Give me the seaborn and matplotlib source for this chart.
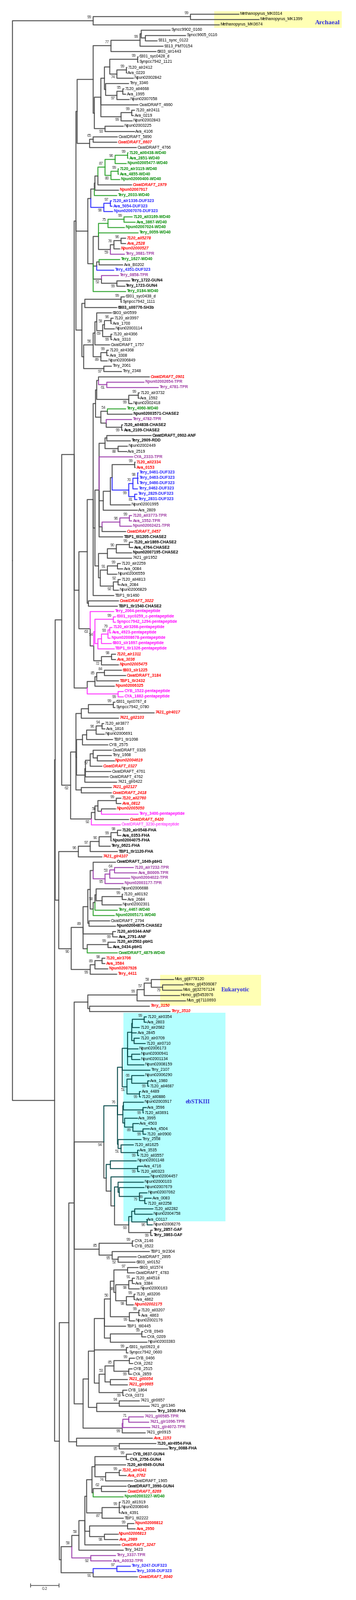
import re
import pandas as pd
import seaborn as sns
import matplotlib.pyplot as plt
from matplotlib.patches import Rectangle

# Newick pieces. Number after ':' = distance of the node from the root (subst./site).
# Label before ':' = bootstrap; a trailing 'b' means the value is printed under the branch.
ARCHAEA = "((Methanopyrus_MK0314:1.608,Methanopyrus_MK1399:1.75)99:1.267,Methanopyrus_MK0674:1.471)99:0.583"

SYN_A1 = ("(((Syncc9902_0160:1.125,(Syncc9605_0116:1.233,9311_sync_0122:1.033):0.95):0.921,"
          "9313_PMT0154:1.075)99:0.913,6803_slr1443:1.025)77:0.708")
SYN_A2 = ("((((6301_syc0428_d:0.9,Synpcc7942_1121:0.9)99:0.896,((7120_alr2412:0.821,Ava_0220:0.821)99:0.817,"
          "Npun02002842:0.867)74b:0.75):0.7,(Tery_3346:0.833,((7120_all4668:0.8,Ava_1995:0.813)95:0.792,"
          "Npun02007058:0.838)97b:0.75):0.671):0.663,CwatDRAFT_4660:0.9,((7120_alr2411:0.875,Ava_0219:0.867)99:0.854,"
          "Npun02002843:0.858)99b:0.779):0.638")
SYN_A3 = "((CwatDRAFT_5890:0.754,CwatDRAFT_6607:0.75)65:0.583,CwatDRAFT_4766:0.888):0.558"
SYN = ("((" + SYN_A1 + ",(" + SYN_A2 + ",(Npun02003225:0.796,Ava_4106:0.875)93b:0.667):0.592):0.583,"
       + SYN_A3 + "):0.471")

WD_A = ("(((7120_all0438-WD40:0.829,Ava_2851-WD40:0.829)99:0.825,Npun02005477-WD40:0.817)96:0.738,"
        "((7120_alr3119-WD40:0.763,Ava_4855-WD40:0.763)99:0.758,Npun02000400-WD40:0.771)80b:0.708)87:0.667")
WD_B = "(((" + WD_A + ",CwatDRAFT_1979:0.854):0.617,Npun02007917:0.763):0.596,Tery_2033-WD40:0.75):0.592"
DUF_A = "((7120_alr1336-DUF323:0.713,Ava_5054-DUF323:0.717)97:0.704,Npun02007070-DUF323:0.721)98b:0.658"
N1 = ("((((7120_all3169-WD40:0.858,Ava_3867-WD40:0.879)99:0.8,Npun02007024-WD40:0.804)75:0.688,"
      "Tery_0059-WD40:0.9,(((7120_all5278:0.813,Ava_2528:0.813)96:0.779,Npun02000527:0.771)78:0.729,"
      "Tery_3681-TPR:0.804)59b:0.704):0.621,((Tery_1627-WD40:0.771,Ava_B0202:0.792):0.625,"
      "Tery_4351-DUF323:0.729):0.608,(Tery_0858-TPR:0.763,(Tery_1722-GUN4:0.842,Tery_1723-GUN4:0.808)99b:0.75)52b:0.642,"
      "Tery_0184-WD40:0.813):0.583")
CLADE_B = "((" + WD_B + "," + DUF_A + "):0.567," + N1 + "):0.546"

CLADE_C = ("(((6301_syc0438_d:0.804,Synpcc7942_1111:0.783)99:0.779,6803_sll0776-SH3b:0.75):0.525,"
           "((((6803_slr0599:0.713,(((7120_alr3997:0.725,Ava_1700:0.713)96:0.708,Npun02003114:0.733)58:0.663,"
           "(7120_alr4366:0.717,Ava_3310:0.717)99b:0.708)69b:0.65):0.608,CwatDRAFT_1757:0.7):0.596,"
           "((7120_alr4368:0.692,Ava_3308:0.692)99:0.679,Npun02006849:0.683)89b:0.638)56:0.583,"
           "(Tery_2061:0.713,Tery_2348:0.783)97b:0.658):0.517):0.504")
CLADE_X = "(" + SYN + "," + CLADE_B + "," + CLADE_C + "):0.463"

CLADE_D = ("(((CwatDRAFT_0901:0.979,(Npun02002654-TPR:0.942,Tery_4781-TPR:1.042)61b:0.679):0.621,"
           "((7120_alr3732:0.908,Ava_1592:0.908)99:0.9,Npun02002418:0.858)99b:0.833):0.608,"
           "((Tery_4060-WD40:0.813,Npun02003571-CHASE2:0.858)54:0.683,(Tery_4782-TPR:0.854,"
           "(7120_all4838-CHASE2:0.792,Ava_2109-CHASE2:0.792)99b:0.783):0.675):0.638):0.6")

DUF_B = ("((Tery_0461-DUF323:0.9,Tery_0463-DUF323:0.9,Tery_0460-DUF323:0.9)98:0.896,Tery_0462-DUF323:0.896)70:0.863,"
         "(Tery_2829-DUF323:0.892,Tery_2831-DUF323:0.892)81b:0.875")
E1 = ("(((CwatDRAFT_0902-ANF:0.992,Tery_2609-RDD:0.846):0.679,(Npun02002449:0.825,Ava_2519:0.821)88b:0.758):0.667,"
      "CYA_2333-TPR:0.863,((((7120_all2334:0.879,Ava_0153:0.879)99:0.875,(" + DUF_B + ")99b:0.833):0.717,"
      "Npun02001995:0.846):0.704,Ava_2809:0.896):0.654,(((7120_all3773-TPR:0.854,Ava_1552-TPR:0.854)99:0.838,"
      "Npun02002421-TPR:0.854)96:0.771,CwatDRAFT_0457:0.813):0.646,TBP1_tll1205-CHASE2:0.792):0.625")
E2 = ("((((7120_alr1869-CHASE2:0.863,Ava_4764-CHASE2:0.863)99:0.838,Npun02007195-CHASE2:0.854)90:0.746,"
      "7421_glr1952:0.854):0.683,(((7120_alr2259:0.775,Ava_0084:0.792)99:0.754,Npun02006559:0.75)91:0.683,"
      "((7120_all4813:0.775,Ava_2084:0.775)92:0.758,Npun02006829:0.763)92b:0.725):0.633):0.621")
CLADE_E = ("((" + CLADE_D + ",(" + E1 + "," + E2 + "):0.596,TBP1_tlr1460:0.729):0.583,"
           "(CwatDRAFT_3022:0.763,TBP1_tlr1540-CHASE2:0.754):0.55):0.542")
PENTA = ("(Tery_2064-pentapeptide:0.729,(((6301_syc0259_c-pentapeptide:0.742,Synpcc7942_1294-pentapeptide:0.742)99:0.725,"
         "((((7120_alr3268-pentapeptide:0.717,Ava_4923-pentapeptide:0.708)79:0.7,Npun02008678-pentapeptide:0.704)93:0.688,"
         "6803_slr1697-pentapeptide:0.713):0.642,TBP1_tlr1326-pentapeptide:0.733):0.617)54b:0.596,"
         "((7120_alr1311:0.742,Ava_3036:0.742)98:0.713,Npun02005475:0.763)72b:0.642):0.588)63b:0.563")
CLADE_L = "(" + CLADE_E + "," + PENTA + "):0.483"
CLADE_G = ("((((6803_slr1225:0.783,CwatDRAFT_3184:0.813)84:0.663,TBP1_tlr2432:0.763)85:0.608,Npun02006325:0.733):0.596,"
           "(CYB_1522-pentapeptide:0.796,CYA_1882-pentapeptide:0.796)99b:0.758):0.542")
CLADE_H = "(" + CLADE_X + "," + CLADE_L + "," + CLADE_G + "):0.45"

I1 = "(((6301_syc0767_d:0.738,Synpcc7942_0780:0.738)99:0.725,7421_glr4017:1.013):0.55,7421_gll2103:0.763):0.5"
I2 = ("(((((7120_alr3877:0.658,Ava_1816:0.667)94:0.646,Npun02006691:0.663)96:0.604,TBP1_tlr1098:0.721):0.538,"
      "CYB_2575:0.688):0.508,((((CwatDRAFT_0326:0.713,(Tery_1668:0.713,Npun02004619:0.733):0.613):0.583,"
      "CwatDRAFT_0327:0.646)57b:0.563,CwatDRAFT_4761:0.708,CwatDRAFT_4762:0.692):0.529,7421_glr0422:0.75):0.525):0.467")
I3 = ("((((7120_all2760:0.779,Ava_0812:0.779)99:0.746,(Npun02005050:0.742,Tery_3400-pentapeptide:0.9):0.642)50b:0.617,"
      "CwatDRAFT_6420:0.833):0.596,CwatDRAFT_3230-pentapeptide:0.775)92b:0.571")
CLADE_I = "((" + I1 + "," + I2 + ",(7421_gll2127:0.713,CwatDRAFT_2418:0.713):0.5):0.463," + I3 + ")62b:0.425"

FHA = ("(((((7120_alr0548-FHA:0.779,Ava_0353-FHA:0.779)98:0.754,Npun02004075-FHA:0.713)99:0.708,"
       "Tery_0621-FHA:0.704)90:0.625,TBP1_tlr1120-FHA:0.754)97:0.563,7421_glr4107:0.646)96:0.479")
TPR_B = ("(CwatDRAFT_1649-pbH1:0.742,(((7120_alr7232-TPR:0.867,Ava_B0009-TPR:0.892)64:0.733,"
         "Npun02004022-TPR:0.842)53:0.7,Npun02003177-TPR:0.796)95b:0.667):0.583")
MIX = ("(((Npun02006688:0.775,((7120_all0192:0.792,Ava_2684:0.817)99:0.788,Npun02002301:0.783):0.646):0.604,"
       "Tery_4467-WD40:0.754)58:0.596,Npun02005171-WD40:0.733):0.583")
K1 = "((" + TPR_B + "," + MIX + "):0.563,(CwatDRAFT_2794:0.7,Npun02004875-CHASE2:0.742):0.554):0.546"
K2 = ("(" + K1 + ",(7120_alr0344-ANF:0.742,Ava_2791-ANF:0.754)99b:0.721,((7120_alr2502-pbH1:0.742,"
      "Ava_0434-pbH1:0.713)99:0.688,CwatDRAFT_4879-WD40:0.754):0.542)89:0.513")
RED3 = "(((7120_alr3706:0.667,Ava_3584:0.667)98:0.646,Npun02007926:0.688)89:0.596,Tery_4411:0.75)99b:0.563"
CLADE_D2 = "(" + FHA + ",(" + K2 + "," + RED3 + ")90b:0.429):0.342"

EUK = ("((((Mus_gi|8778120:1.15,(Homo_gi|4506087:1.217,Mus_gi|32767124:1.208)79b:1.071)58:0.992,"
       "Homo_gi|5453976:1.192)57:0.942,Mus_gi|7110693:1.233)99:0.892,(Tery_3150:0.979,Tery_3510:1.125):0.558):0.546")
EB1 = ("((((7120_alr0354:0.958,Ava_2803:0.958)99:0.942,7120_alr2682:0.908):0.858,Ava_2845:0.888,"
       "(7120_alr0709:0.908,7120_alr0710:0.95):0.871):0.854,Npun02006173:0.9,(Npun02000941:0.913,"
       "Npun02001134:0.913):0.854,Npun02008159:0.942):0.825")
EB2 = ("(" + EB1 + ",Tery_2107:0.983,((Npun02006290:0.942,(Ava_1980:0.979,7120_all4687:0.975)99b:0.967)66:0.854,"
       "(Ava_4489:0.917,7120_all0886:0.917)99b:0.908)51b:0.821):0.788")
EB3 = ("((Npun02003917:0.938,(Ava_3596:0.958,7120_all3691:0.938)99b:0.933):0.796,(Ava_3995:0.896,"
       "(Ava_4503:0.904,(Ava_4504:0.979,7120_alr0900:0.954)99b:0.933)89b:0.863):0.804):0.792")
EB4 = "(Tery_2558:0.921,(7120_all1625:0.867,(Ava_3535:0.904,7120_all3557:0.904)99b:0.896)51b:0.779):0.758"
EB = "(" + EB2 + "," + EB3 + "," + EB4 + ")76:0.754"
EB_Q = ("((Npun02001148:0.888,(Ava_4716:0.933,7120_all0323:0.908)99b:0.896):0.704,(Npun02004457:0.979,"
        "((Npun02000103:0.938,(Npun02007679:0.942,(Npun02007062:0.963,(Ava_0083:0.992,7120_alr2258:0.958)99:0.946)79b:0.908):0.767):0.758,"
        "(((7120_all2282:1.004,Npun02004758:1.0):0.875,(Ava_C0117:0.958,Npun02008276:1.0)96b:0.963):0.854,"
        "(Tery_2857-GAF:1.0,Tery_3863-GAF:1.0)99b:0.988)93b:0.833):0.733):0.708):0.675")
EB_ALL = "(" + EB + "," + EB_Q + ")94b:0.658"
CY = ("((CYA_2146:0.867,CYB_0522:0.867)99:0.858,(TBP1_tlr2304:0.979,(CwatDRAFT_2895:0.888,"
      "6803_slr0152:0.879)52b:0.758)95b:0.717)85:0.625")
S1 = ("((((6803_sll1574:0.9,CwatDRAFT_4783:0.875)97:0.825,(((7120_all4518:0.875,Ava_3384:0.875)91:0.858,"
      "Npun02000163:0.908)98b:0.833,((7120_all3206:0.879,Ava_4862:0.879)99:0.871,Npun02002175:0.867)98b:0.817)98:0.742):0.729,"
      "((7120_all3207:0.913,Ava_4863:0.913)99:0.904,Npun02002176:0.875)99b:0.838)50:0.704,TBP1_tll0445:0.813,"
      "((CYB_0949:0.933,CYA_0209:0.954)99:0.925,Npun02003383:0.963):0.704):0.663")
T1 = ("(" + S1 + ",(6301_syc0923_d:0.829,Synpcc7942_0600:0.829)99:0.817,((((CYB_0466:0.875,CYA_2262:0.863)99:0.838,"
      "(CYB_2515:0.858,CYA_2859:0.854)99b:0.833)85:0.729,(7421_gll0054:0.825,7421_glr0665:0.825):0.704)53:0.667,"
      "(CYB_1864:0.821,CYA_0373:0.8)99b:0.792):0.625):0.592")
W = ("((" + T1 + ",((7421_glr0657:0.908,7421_glr1346:0.979)94:0.767,Tery_1030-FHA:1.025):0.608):0.55,"
     "(((7421_gll0585-TPR:0.938,7421_glr1096-TPR:0.975)71:0.833,7421_glr4072-TPR:0.983):0.792,"
     "7421_glr0915:0.95)99b:0.788):0.513")
CLADE_EE = "(" + EUK + "," + EB_ALL + "," + CY + "," + W + "):0.45"
CLADE_FF = "(" + CLADE_EE + ",(Ava_1153:1.0,(7120_alr4954-FHA:1.025,Tery_0088-FHA:1.108)95b:0.767):0.467):0.413"

U1 = ("(((((CYB_0637-GUN4:0.854,CYA_2756-GUN4:0.833)99:0.817,7120_alr4949-GUN4:0.813,((7120_alr4141:0.779,"
      "Ava_0762:0.817)99:0.767,CwatDRAFT_1965:0.863)74b:0.671):0.596,((CwatDRAFT_3990-GUN4:0.817,"
      "CwatDRAFT_6269:0.817)62:0.642,Npun02003227-WD40:0.796):0.583):0.575,((7120_all1919:0.775,"
      "Npun02008046:0.775,Ava_4391:0.775)99:0.767,TBP1_tll2222:0.796)87b:0.646):0.538,((Npun02006812:0.871,"
      "Ava_2950:0.879)99:0.825,(Npun02006813:0.758,Ava_2989:0.758)98b:0.663):0.558,CwatDRAFT_3247:0.775):0.525")
U2 = "((" + U1 + ",Tery_3423:0.796)58:0.483,(Tery_3337-TPR:0.742,Ava_A0032-TPR:0.713)92b:0.567)58:0.433"
CLADE_U = "(" + U2 + ",((Tery_0247-DUF323:0.846,Tery_1036-DUF323:0.883)97:0.75,CwatDRAFT_6040:0.896)91b:0.583):0.358"

TREE = ("(" + ARCHAEA + ",(((" + CLADE_H + "," + CLADE_I + "):0.363," + CLADE_D2 + "):0.317,("
        + CLADE_FF + "," + CLADE_U + "):0.346):0.313):0.015")

RED_ITALIC = ["CwatDRAFT_6607", "CwatDRAFT_1979", "7120_all5278", "Ava_2528", "Npun02000527", "CwatDRAFT_0901",
              "CwatDRAFT_0457", "CwatDRAFT_3022", "7120_alr1311", "Ava_3036", "Npun02005475", "7421_glr4017",
              "7421_gll2103", "Npun02004619", "CwatDRAFT_0327", "7421_gll2127", "CwatDRAFT_2418", "7120_all2760",
              "Ava_0812", "Npun02005050", "CwatDRAFT_6420", "7421_glr4107", "Tery_3150", "Tery_3510",
              "Npun02002175", "7421_gll0054", "7421_glr0665", "Ava_1153", "7120_alr4141", "Ava_0762",
              "CwatDRAFT_6269", "Npun02006813", "Ava_2989", "CwatDRAFT_3247", "CwatDRAFT_6040"]
RED_BOLD = ["Npun02007917", "7120_all2334", "Ava_0153", "6803_slr1225", "CwatDRAFT_3184", "TBP1_tlr2432",
            "Npun02006325", "7120_alr3706", "Ava_3584", "Npun02007926", "Tery_4411", "Npun02006812", "Ava_2950"]
PLAIN_DOMAIN = ["CwatDRAFT_3230-pentapeptide"]
DOMAIN_SUFFIX = ["-WD40", "-DUF323", "-TPR", "-pentapeptide"]
DOMAIN_CLASS = ["wd40", "duf", "tpr", "penta"]
EB_FIRST, EB_LAST, EB_BOX_LAST = "7120_alr0354", "Npun02008276", "Ava_C0117"
EUK_FIRST, EUK_LAST = "Mus_gi|8778120", "Mus_gi|7110693"
ARC_FIRST, ARC_LAST = "Methanopyrus_MK0314", "Methanopyrus_MK0674"
SCALE_LEN = 0.2

TEXT_COLOR = {"wd40": "#008a00", "duf": "#2020ff", "tpr": "#9a35a0", "penta": "#ff00ff", "red": "#ff0000"}
BRANCH_COLOR = {"gray": "#505050", "wd40": "#33a533", "duf": "#3535ff", "tpr": "#a045b0",
                "penta": "#ff3cff", "eb": "#0f5050"}


def parse(s):
    pos = 0
    name_re = re.compile(r"[^:,()]*")
    num_re = re.compile(r"[0-9.]+")

    def node():
        nonlocal pos
        n = {"children": [], "depth": 0.0}
        if s[pos] == "(":
            pos += 1
            n["children"].append(node())
            while s[pos] == ",":
                pos += 1
                n["children"].append(node())
            pos += 1
        m = name_re.match(s, pos)
        n["name"] = m.group(0)
        pos = m.end()
        if pos < len(s) and s[pos] == ":":
            m = num_re.match(s, pos + 1)
            n["depth"] = float(m.group(0))
            pos = m.end()
        return n
    return node()


root = parse(TREE)
leaves = []


def place(n):
    if not n["children"]:
        n["y"] = len(leaves)
        leaves.append(n)
    else:
        for c in n["children"]:
            place(c)
        n["y"] = (n["children"][0]["y"] + n["children"][-1]["y"]) / 2


place(root)
order = [l["name"] for l in leaves]
eb_range = range(order.index(EB_FIRST), order.index(EB_LAST) + 1)


def leaf_class(i, name):
    if i in eb_range:
        return "eb"
    for suf, cls in zip(DOMAIN_SUFFIX, DOMAIN_CLASS):
        if name.endswith(suf):
            return cls
    return "gray"


def set_class(n):
    if not n["children"]:
        n["cls"] = leaf_class(n["y"], n["name"])
    else:
        kids = [set_class(c) for c in n["children"]]
        n["cls"] = kids[0] if len(set(kids)) == 1 else "gray"
    return n["cls"]


set_class(root)

rows = []
supports = []


def collect(n):
    for k, c in enumerate(n["children"]):
        for x, y in [(n["depth"], n["y"]), (n["depth"], c["y"]), (c["depth"], c["y"])]:
            rows.append({"seg": f"{id(n)}_{k}", "x": x, "y": y, "cls": c["cls"]})
        collect(c)
    if n["children"] and n["name"]:
        supports.append((n["depth"], n["y"], n["name"]))


collect(root)
segs = pd.DataFrame(rows)

sns.set_theme(style="white")
plt.rcParams["font.family"] = ["Liberation Sans", "DejaVu Sans"]

fig = plt.figure(figsize=(6, 27), dpi=100)
ax = fig.add_axes([0, 0, 1, 1])
ax.set_xlim(-17 / 240, 583 / 240)
ax.set_ylim((2700 - 23.7) / 9, -23.7 / 9)
ax.axis("off")


# shaded groups
def box(first, last, x0, x1, color, top=0.55, bottom=0.55):
    i0, i1 = order.index(first), order.index(last)
    ax.add_patch(Rectangle((x0, i0 - top), x1 - x0, i1 - i0 + top + bottom,
                           facecolor=color, edgecolor="none", zorder=0))


box(ARC_FIRST, ARC_LAST, 1.433, 2.33, "#ffffb4")
box(EUK_FIRST, EUK_LAST, 1.054, 1.763, "#ffffb4", 0.9, 0.95)
box(EB_FIRST, EB_BOX_LAST, 0.796, 1.513, "#b4ffff", 0.75, 0.4)

sns.lineplot(data=segs, x="x", y="y", hue="cls", units="seg", estimator=None, sort=False,
             palette=BRANCH_COLOR, legend=False, linewidth=1.15, ax=ax, zorder=2)
ax.set_xlabel("")
ax.set_ylabel("")

gap = 0.006
for i, l in enumerate(leaves):
    name = l["name"]
    kw = dict(color="black", weight="normal", style="normal")
    if name in RED_ITALIC:
        kw.update(color=TEXT_COLOR["red"], weight="bold", style="italic")
    elif name in RED_BOLD:
        kw.update(color=TEXT_COLOR["red"], weight="bold")
    elif name in PLAIN_DOMAIN:
        kw.update(color=TEXT_COLOR["penta"])
    elif "-" in name:
        cls = leaf_class(-1, name)
        kw.update(color=TEXT_COLOR.get(cls, "black"), weight="bold")
    ax.text(l["depth"] + gap, i, name, fontsize=4.9, va="center", ha="left", zorder=3, **kw)

for x, y, lab in supports:
    below = lab.endswith("b")
    ax.text(x - 0.012, y + (0.22 if below else -0.22), lab.rstrip("b"), fontsize=4.9, color="#404040",
            ha="right", va="top" if below else "bottom", zorder=3)

serif = dict(family=["Liberation Serif", "DejaVu Serif"], weight="bold", color="#3030dd")
ax.text(2.23, order.index(ARC_LAST) - 0.35, "Archaeal", fontsize=7.8,
        ha="center", va="center", **serif)
ax.text(1.583, (order.index(EUK_FIRST) + order.index(EUK_LAST)) / 2, "Eukaryotic", fontsize=7.2,
        ha="center", va="center", **serif)
ax.text(1.317, order.index("Npun02003917"), "ebSTKIII", fontsize=7.2, ha="center", va="center", **serif)

# scale bar
sy = len(order) + 0.6
sx = 34 / 240
ax.plot([sx, sx + SCALE_LEN], [sy, sy], color="#505050", lw=0.9)
for xx in (sx, sx + SCALE_LEN):
    ax.plot([xx, xx], [sy - 0.3, sy + 0.3], color="#505050", lw=0.9)
ax.text(sx + SCALE_LEN / 2, sy + 0.35, f"{SCALE_LEN:g}", fontsize=4.9, color="#404040", ha="center", va="top")

fig.savefig("out.png", dpi=100)
